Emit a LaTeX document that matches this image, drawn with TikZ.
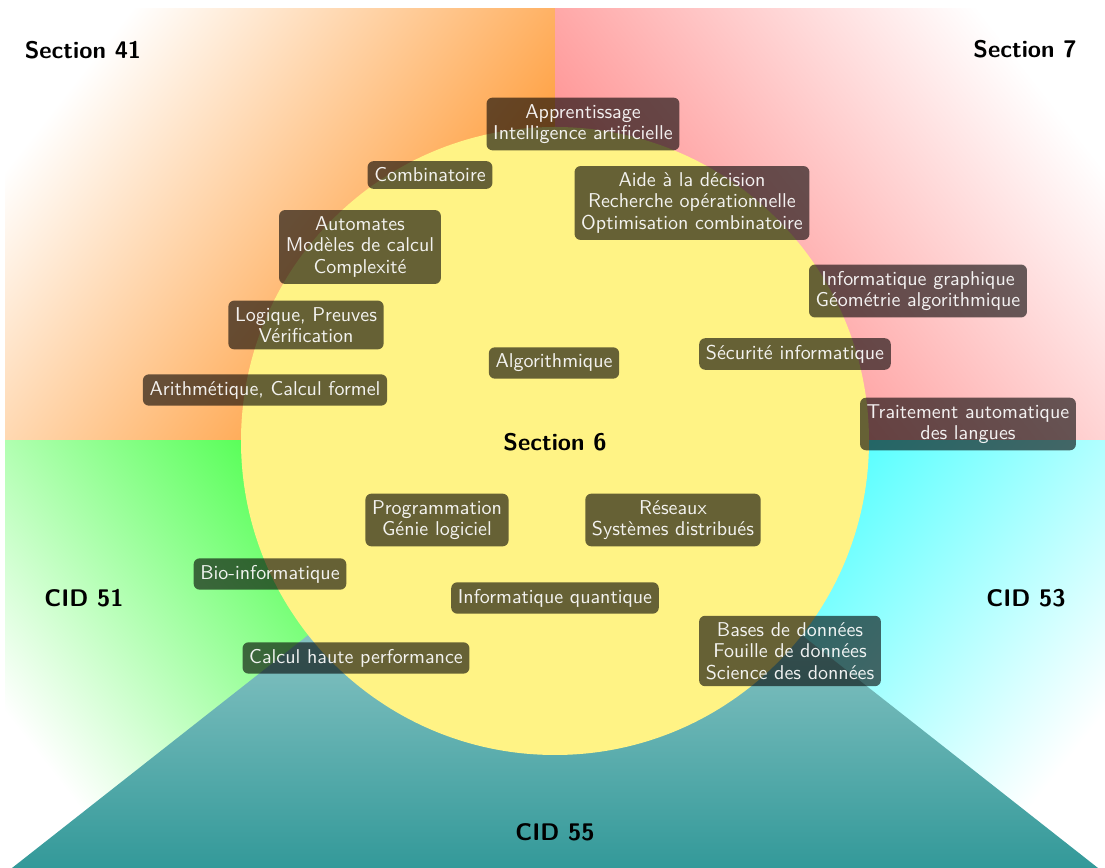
\documentclass[tikz,border=0pt]{standalone}
\usepackage{tikz}
\definecolor{secyellow}{RGB}{255,243,133}
\colorlet{secorange}{orange!75}
\colorlet{secred}{red!42}
\colorlet{secgreen}{green!75}
\colorlet{seccyan}{cyan!75}
\tikzset{ topic/.style = {fill=black, fill opacity=0.6, text opacity=0.92, text=white, rounded corners=3pt,
    align=center, font=\sffamily\fontsize{10}{10.7}\selectfont},
  sect/.style = {font=\sffamily\bfseries\large} }

\begin{document}
\begin{tikzpicture}[x=0.5pt, y=0.5pt]
  \useasboundingbox (0,0) rectangle (1105,868);

  % the four corners, fading towards white along the diagonal
  \foreach \cx/\cy/\ang/\col in {5/859/141.85/secorange, 1105/859/38.15/secred,
      5/0/218.15/secgreen, 1105/0/-38.15/seccyan} {
    \begin{scope}
      \clip (555,427) rectangle (\cx,\cy);
      \begin{scope}[transform canvas={rotate around={\ang:(555,427)}}]
        \fill[\col] (545,-23) rectangle (746,877);
        \shade[left color=\col, right color=white] (745,-23) rectangle (1155,877);
      \end{scope}
    \end{scope}
  }
  \shade[top color=teal!21!white, bottom color=teal!80!white] (555,427) -- (12,0) -- (1098,0) -- cycle;
  \fill[secyellow] (555,427) circle (314);

  \node[sect] (s41) at (83,818) {Section 41};
  \node[sect] (s7) at (1025,819) {Section 7};
  \node[sect] (s6) at (555,426) {Section 6};
  \node[sect] (c51) at (84,270) {CID 51};
  \node[sect] (c53) at (1026,270) {CID 53};
  \node[sect] (c55) at (555,36) {CID 55};

  \node[topic] (appr) at (583,744) {Apprentissage\\Intelligence artificielle};
  \node[topic] (comb) at (430,693) {Combinatoire};
  \node[topic] (aide) at (692,665) {Aide à la décision\\Recherche opérationnelle\\Optimisation combinatoire};
  \node[topic] (auto) at (360,621) {Automates\\Modèles de calcul\\Complexité};
  \node[topic] (graph) at (918,577) {Informatique graphique\\Géométrie algorithmique};
  \node[topic] (logi) at (306,543) {Logique, Preuves\\Vérification};
  \node[topic] (secu) at (795,514) {Sécurité informatique};
  \node[topic] (algo) at (554,505) {Algorithmique};
  \node[topic] (arit) at (265,478) {Arithmétique, Calcul formel};
  \node[topic] (tal) at (968,444) {Traitement automatique\\des langues};
  \node[topic] (prog) at (437,348) {Programmation\\Génie logiciel};
  \node[topic] (res) at (673,348) {Réseaux\\Systèmes distribués};
  \node[topic] (bio) at (270,294) {Bio-informatique};
  \node[topic] (quant) at (555,270) {Informatique quantique};
  \node[topic] (hpc) at (356,210) {Calcul haute performance};
  \node[topic] (bdd) at (790,217) {Bases de données\\Fouille de données\\Science des données};
\end{tikzpicture}
\end{document}
